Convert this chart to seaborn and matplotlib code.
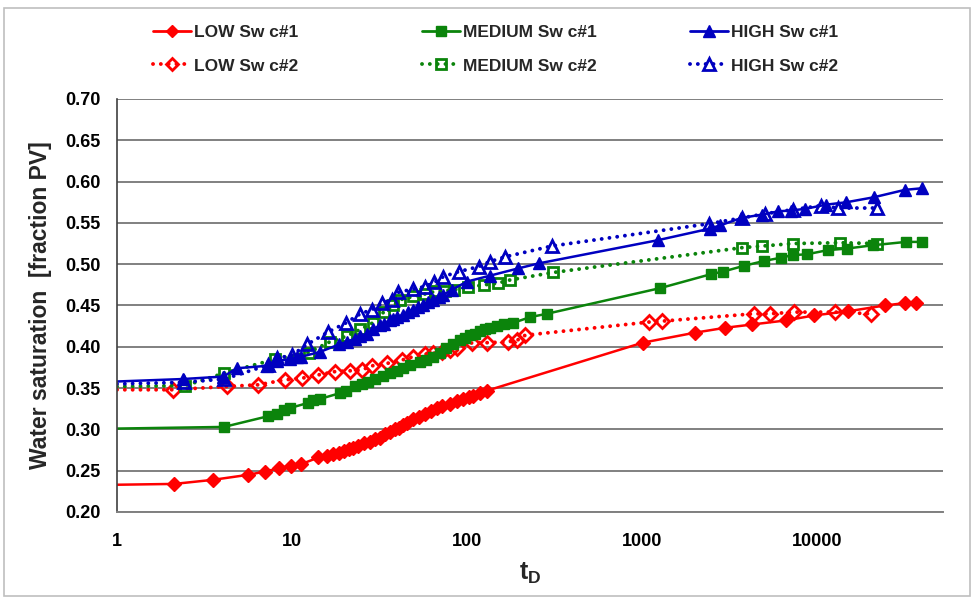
import numpy as np
import pandas as pd
import matplotlib
matplotlib.use("Agg")
import matplotlib.pyplot as plt
import seaborn as sns
from matplotlib.lines import Line2D
from matplotlib.patches import Rectangle

# ---------------- data ----------------
low1_t = [1, 2.12, 3.55, 5.6, 7.0, 8.4, 9.8, 11.3, 14.1, 15.8, 17.0, 18.4, 19.7, 21.0, 22.4,
          23.9, 25.8, 27.9, 29.8, 31.8, 34.0, 36.3, 38.5, 40.5, 43.0, 45.5, 49.3, 53.0, 57.0,
          62.0, 67.0, 72.0, 80.0, 87.5, 95.0, 102, 108, 118, 130,
          1004, 1984, 2960, 4230, 6630, 9560, 14900, 24200, 31600, 36700]
low1_s = [0.233, 0.234, 0.239, 0.245, 0.249, 0.253, 0.256, 0.258, 0.266, 0.268, 0.270, 0.272,
          0.274, 0.276, 0.278, 0.280, 0.283, 0.285, 0.288, 0.290, 0.294, 0.297, 0.300, 0.302,
          0.305, 0.308, 0.312, 0.315, 0.319, 0.322, 0.326, 0.328, 0.331, 0.334, 0.337, 0.339,
          0.341, 0.344, 0.347,
          0.405, 0.417, 0.423, 0.427, 0.432, 0.438, 0.443, 0.450, 0.453, 0.453]

low2_t = [1, 2.1, 4.24, 6.4, 9.1, 11.4, 14.1, 17.6, 21.5, 25.0, 28.6, 35.0, 42.4, 49, 57.6,
          64, 72, 80, 87, 107, 130, 171, 193, 214,
          1093, 1285, 4335, 5325, 7360, 12600, 20100]
low2_s = [0.348, 0.348, 0.352, 0.354, 0.360, 0.362, 0.366, 0.370, 0.371, 0.372, 0.377, 0.380,
          0.384, 0.388, 0.391, 0.392, 0.394, 0.396, 0.398, 0.405, 0.405, 0.406, 0.408, 0.414,
          0.430, 0.431, 0.440, 0.440, 0.442, 0.442, 0.440]

med1_t = [1, 4.08, 7.3, 8.2, 9.0, 9.75, 12.3, 13.2, 14.5, 18.8, 20.2, 22.9, 25.0, 27.0, 29.8,
          33, 36.3, 39.6, 43, 47, 53.7, 58, 64, 70, 76, 83, 91, 97, 104, 111, 118, 126, 134,
          147, 161, 183, 229, 285,
          1260, 2470, 2880, 3790, 4960, 6220, 7200, 8700, 11400, 14800, 20800, 32000, 39400]
med1_s = [0.301, 0.303, 0.316, 0.319, 0.323, 0.326, 0.332, 0.335, 0.337, 0.344, 0.347, 0.352,
          0.355, 0.357, 0.361, 0.365, 0.368, 0.371, 0.374, 0.378, 0.381, 0.384, 0.388, 0.393,
          0.398, 0.403, 0.408, 0.411, 0.414, 0.416, 0.419, 0.421, 0.423, 0.425, 0.427, 0.429,
          0.436, 0.440,
          0.471, 0.488, 0.491, 0.498, 0.504, 0.508, 0.511, 0.512, 0.517, 0.519, 0.523, 0.527, 0.527]

med2_t = [1, 2.45, 4.08, 8.0, 12.4, 16.4, 20.5, 24.5, 28.9, 33.3, 37.8, 41.4, 49.3, 57.5,
          65.5, 74.9, 83.7, 100.5, 125, 149, 176, 310,
          3700, 4840, 7240, 13400, 21900]
med2_s = [0.352, 0.353, 0.368, 0.385, 0.393, 0.406, 0.413, 0.421, 0.429, 0.442, 0.450, 0.457,
          0.461, 0.464, 0.467, 0.468, 0.469, 0.472, 0.475, 0.477, 0.481, 0.490,
          0.520, 0.522, 0.525, 0.526, 0.525]

high1_t = [1, 2.39, 4.05, 4.83, 7.2, 8.2, 9.75, 10.6, 11.3, 14.5, 18.6, 20.5, 22.9, 24.5,
           26.7, 29, 31.8, 33.3, 36.3, 37.8, 39.6, 43.2, 46, 49.3, 52.5, 56.2, 60, 64.1, 68.5,
           73.1, 81.5, 99.7, 134, 196, 256,
           1220, 2420, 2780, 3670, 4800, 5960, 7020, 8500, 11100, 14600, 20900, 31500, 39700]
high1_s = [0.358, 0.361, 0.364, 0.374, 0.377, 0.383, 0.385, 0.388, 0.388, 0.394, 0.403, 0.406,
           0.410, 0.413, 0.416, 0.421, 0.426, 0.428, 0.432, 0.434, 0.436, 0.439, 0.442, 0.445,
           0.448, 0.451, 0.454, 0.457, 0.460, 0.463, 0.469, 0.479, 0.486, 0.495, 0.501,
           0.529, 0.543, 0.547, 0.556, 0.560, 0.564, 0.565, 0.567, 0.572, 0.575, 0.581, 0.590, 0.592]

high2_t = [1, 2.4, 4.1, 7.3, 8.2, 10.0, 12.2, 16.1, 20.3, 24.5, 28.6, 32.6, 37, 40.4, 49.3,
           57.5, 64.9, 73.1, 89.3, 116, 134, 165, 304,
           2400, 3700, 5000, 7200, 10500, 13000, 21800]
high2_s = [0.355, 0.357, 0.361, 0.378, 0.386, 0.390, 0.403, 0.418, 0.429, 0.440, 0.445, 0.453,
           0.457, 0.466, 0.470, 0.473, 0.478, 0.485, 0.491, 0.497, 0.503, 0.509, 0.522,
           0.549, 0.556, 0.561, 0.566, 0.571, 0.568, 0.568]

series_names = ["LOW Sw c#1", "LOW Sw c#2", "MEDIUM Sw c#1", "MEDIUM Sw c#2",
                "HIGH Sw c#1", "HIGH Sw c#2"]
x_ticks = [1, 10, 100, 1000, 10000]
y_ticks = [0.20, 0.25, 0.30, 0.35, 0.40, 0.45, 0.50, 0.55, 0.60, 0.65, 0.70]

# ---------------- style ----------------
sns.set_theme(style="white")
FONT = ["Liberation Sans Narrow", "Liberation Sans", "DejaVu Sans"]
plt.rcParams["font.family"] = FONT
plt.rcParams["font.weight"] = "bold"
plt.rcParams["mathtext.fontset"] = "custom"
plt.rcParams["mathtext.bf"] = "Liberation Sans:bold"
plt.rcParams["mathtext.rm"] = "Liberation Sans:bold"

RED = "#ff0000"
GREEN = "#0b840b"
BLUE = "#0000c0"

styles = {
    "LOW Sw c#1": dict(color=RED, marker="D", ls="-", ms=7),
    "LOW Sw c#2": dict(color=RED, marker="D", ls="dot", ms=7),
    "MEDIUM Sw c#1": dict(color=GREEN, marker="s", ls="-", ms=7.5),
    "MEDIUM Sw c#2": dict(color=GREEN, marker="s", ls="dot", ms=7.5),
    "HIGH Sw c#1": dict(color=BLUE, marker="^", ls="-", ms=9),
    "HIGH Sw c#2": dict(color=BLUE, marker="^", ls="dot", ms=9),
}
data = {
    "LOW Sw c#1": (low1_t, low1_s), "LOW Sw c#2": (low2_t, low2_s),
    "MEDIUM Sw c#1": (med1_t, med1_s), "MEDIUM Sw c#2": (med2_t, med2_s),
    "HIGH Sw c#1": (high1_t, high1_s), "HIGH Sw c#2": (high2_t, high2_s),
}
DOT = (0, (0.01, 2.0))

fig = plt.figure(figsize=(9.74, 5.98), dpi=100)
ax = fig.add_axes([117 / 974, 1 - 512 / 598, (943 - 117) / 974, (512 - 99) / 598])

draw_order = ["LOW Sw c#2", "MEDIUM Sw c#2", "HIGH Sw c#2",
              "LOW Sw c#1", "MEDIUM Sw c#1", "HIGH Sw c#1"]
for name in draw_order:
    t, s = data[name]
    st = styles[name]
    df = pd.DataFrame({"t": t, "s": s})
    kw = dict(color=st["color"], marker=st["marker"], markersize=st["ms"],
              markevery=slice(1, None), estimator=None, sort=True)
    if st["ls"] == "dot":
        kw.update(linestyle=DOT, linewidth=2.8, dash_capstyle="round",
                  markerfacecolor="none", markeredgecolor=st["color"], markeredgewidth=2.0)
    else:
        kw.update(linestyle="-", linewidth=1.8, markerfacecolor=st["color"],
                  markeredgecolor=st["color"], markeredgewidth=1.0)
    sns.lineplot(data=df, x="t", y="s", ax=ax, legend=False, **kw)

ax.set_xscale("log")
ax.set_xlim(1, 52000)
ax.set_ylim(0.20, 0.70)
ax.set_xticks(x_ticks)
ax.set_xticklabels([str(v) for v in x_ticks])
ax.xaxis.set_minor_locator(matplotlib.ticker.NullLocator())
ax.set_yticks(y_ticks)
ax.set_yticklabels([f"{v:.2f}" for v in y_ticks])
ax.tick_params(axis="both", length=0, labelsize=13, colors="black")
ax.tick_params(axis="x", pad=15)
ax.tick_params(axis="y", pad=12)
for lab in ax.get_xticklabels() + ax.get_yticklabels():
    lab.set_fontweight("bold")

ax.grid(axis="y", color="#808080", linewidth=1.4)
ax.grid(axis="x", visible=False)
ax.set_axisbelow(True)
for side in ["top", "right"]:
    ax.spines[side].set_visible(False)
ax.spines["left"].set_color("#404040")
ax.spines["left"].set_linewidth(1.2)
ax.spines["bottom"].set_color("#808080")
ax.spines["bottom"].set_linewidth(1.4)

ax.set_xlabel(r"$\mathbf{t_D}$", fontsize=18, labelpad=8)
ax.set_ylabel("Water saturation  [fraction PV]", fontsize=16.5, fontweight="bold", labelpad=9)


def make_handle(name):
    st = styles[name]
    if st["ls"] == "dot":
        return Line2D([], [], color=st["color"], marker=st["marker"], markersize=st["ms"] - 1,
                      linestyle=DOT, linewidth=2.8, dash_capstyle="round",
                      markerfacecolor="none", markeredgewidth=2.0)
    return Line2D([], [], color=st["color"], marker=st["marker"], markersize=st["ms"] - 1,
                  linestyle="-", linewidth=2.0, markerfacecolor=st["color"])


# legend: three columns placed at the reference positions
legend_cols = [(["LOW Sw c#1", "LOW Sw c#2"], 153),
               (["MEDIUM Sw c#1", "MEDIUM Sw c#2"], 422),
               (["HIGH Sw c#1", "HIGH Sw c#2"], 690)]
for names, xpx in legend_cols:
    leg = fig.legend([make_handle(n) for n in names], names, ncol=1, loc="upper left",
                     bbox_to_anchor=(xpx / 974, 1 - 25 / 598), frameon=False,
                     fontsize=12.5, handlelength=2.2, handletextpad=0.15,
                     labelspacing=1.05, numpoints=1, borderpad=0, borderaxespad=0)
    for txt in leg.get_texts():
        txt.set_fontweight("bold")

# chart-area border
fig.patches.append(Rectangle((4 / 974, 2 / 598), 966 / 974, 588 / 598, transform=fig.transFigure,
                             fill=False, edgecolor="#bfbfbf", linewidth=1.2))

fig.savefig("out.png", dpi=100)
